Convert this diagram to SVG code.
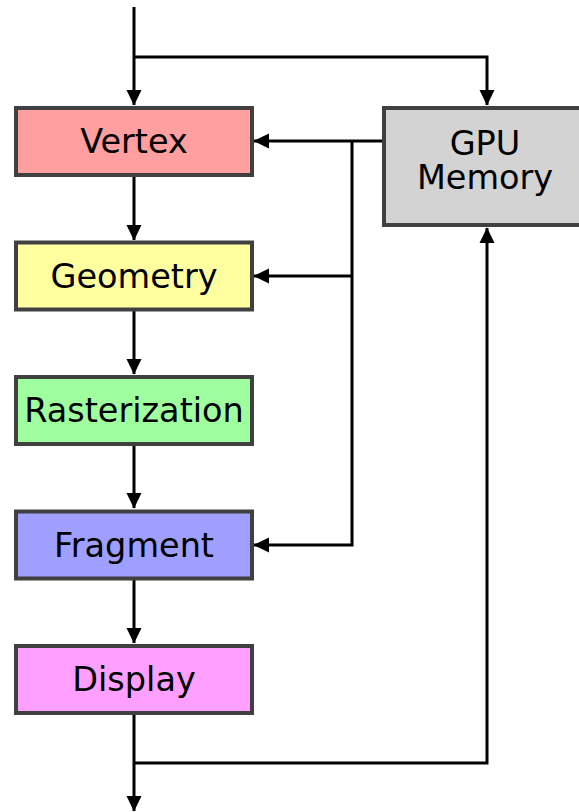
<svg xmlns="http://www.w3.org/2000/svg" width="579" height="812" viewBox="0 0 579 812">
<style>
.box{stroke:#404040;stroke-width:4}
.lbl{font-family:"DejaVu Sans",sans-serif;font-size:33.5px;fill:#000;text-anchor:middle}
.c{fill:none;stroke:#000;stroke-width:3}
</style>
<defs>
<marker id="ah" markerUnits="userSpaceOnUse" markerWidth="16" markerHeight="16" viewBox="0 0 16 16" refX="15" refY="8" orient="auto">
<path d="M0,0.5 L15.5,8 L0,15.5 Z" fill="#000"/>
</marker>
</defs>
<rect width="579" height="812" fill="#fff"/>
<g id="connectors">
<path class="c" d="M134,7 V105" marker-end="url(#ah)"/>
<path class="c" d="M134,57 H487 V105" marker-end="url(#ah)"/>
<path class="c" d="M134,177 V240" marker-end="url(#ah)"/>
<path class="c" d="M134,311 V374" marker-end="url(#ah)"/>
<path class="c" d="M134,445 V508" marker-end="url(#ah)"/>
<path class="c" d="M134,580 V643" marker-end="url(#ah)"/>
<path class="c" d="M134,715 V811" marker-end="url(#ah)"/>
<path class="c" d="M383,141 H254" marker-end="url(#ah)"/>
<path class="c" d="M352,141 V545 H254" marker-end="url(#ah)"/>
<path class="c" d="M352,276 H254" marker-end="url(#ah)"/>
<path class="c" d="M134,763 H487 V228" marker-end="url(#ah)"/>
</g>
<g id="vertex"><rect class="box" x="16" y="108" width="236" height="67" fill="#ff9f9f"/><text class="lbl" x="134" y="153">Vertex</text></g>
<g id="geometry"><rect class="box" x="16" y="242.5" width="236" height="67" fill="#ffff9f"/><text class="lbl" x="134" y="287.5">Geometry</text></g>
<g id="rasterization"><rect class="box" x="16" y="377" width="236" height="67" fill="#9fff9f"/><text class="lbl" x="134" y="422">Rasterization</text></g>
<g id="fragment"><rect class="box" x="16" y="511.5" width="236" height="67" fill="#9f9fff"/><text class="lbl" x="134" y="556.5">Fragment</text></g>
<g id="display"><rect class="box" x="16" y="646" width="236" height="67" fill="#ff9fff"/><text class="lbl" x="134" y="691">Display</text></g>
<g id="gpu-memory"><rect class="box" x="384" y="108" width="204" height="117" fill="#d3d3d3"/><text class="lbl" x="485" y="155">GPU</text><text class="lbl" x="485" y="189">Memory</text></g>
</svg>
